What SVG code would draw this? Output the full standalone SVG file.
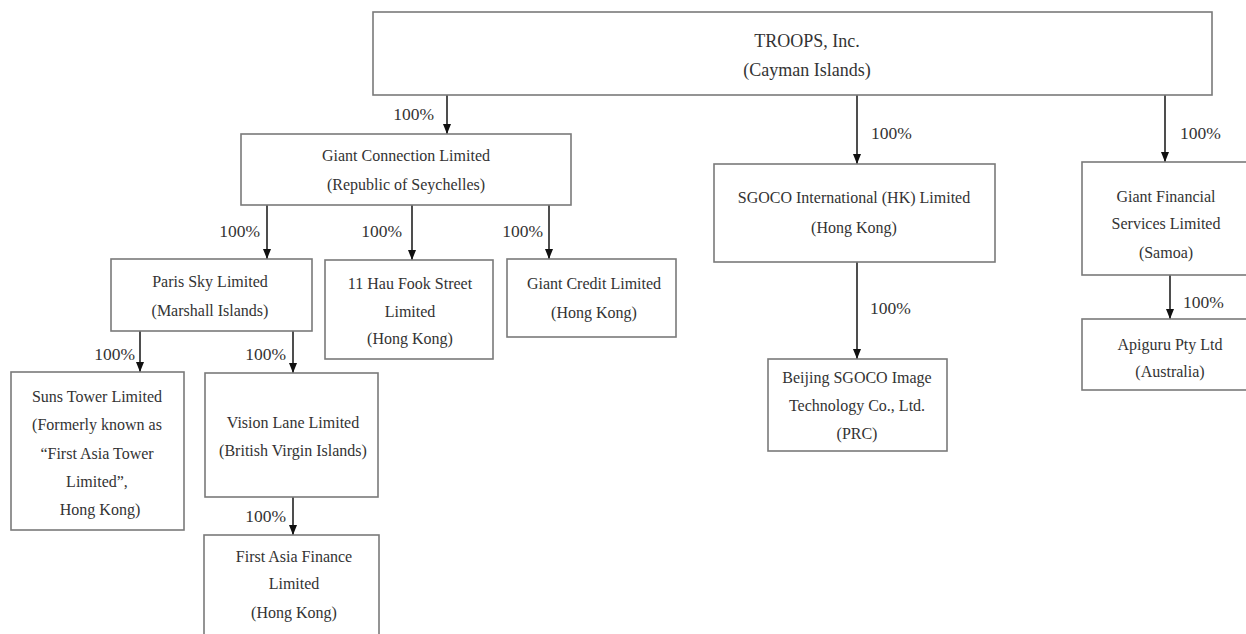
<svg xmlns="http://www.w3.org/2000/svg" width="1246" height="634" viewBox="0 0 1246 634">
<style>
.box{fill:#fff;stroke:#7a7a7a;stroke-width:1.6}
.t{font-family:"Liberation Serif","Times New Roman",serif;font-size:16px;fill:#333;text-anchor:middle}
.big{font-size:18px}
.pct{font-family:"Liberation Serif","Times New Roman",serif;font-size:17.5px;fill:#333}
.e{text-anchor:end}
.s{text-anchor:start}
.ln{stroke:#222;stroke-width:1.6;fill:none;marker-end:url(#arr)}
</style>
<defs>
<marker id="arr" viewBox="0 0 10 8" refX="10" refY="4" markerWidth="10" markerHeight="8" markerUnits="userSpaceOnUse" orient="auto">
<path d="M0,0 L10,4 L0,8 z" fill="#111"/>
</marker>
</defs>
<rect width="1246" height="634" fill="#fff"/>
<g id="connectors">
<line class="ln" x1="447" y1="95" x2="447" y2="134"/>
<text class="pct e" x="434" y="120">100%</text>
<line class="ln" x1="857" y1="95" x2="857" y2="164"/>
<text class="pct s" x="871" y="139">100%</text>
<line class="ln" x1="1165" y1="95" x2="1165" y2="162"/>
<text class="pct s" x="1180" y="139">100%</text>
<line class="ln" x1="267" y1="205" x2="267" y2="259"/>
<text class="pct e" x="260" y="237">100%</text>
<line class="ln" x1="412" y1="205" x2="412" y2="260"/>
<text class="pct e" x="402" y="237">100%</text>
<line class="ln" x1="549" y1="205" x2="549" y2="259"/>
<text class="pct e" x="543" y="237">100%</text>
<line class="ln" x1="140" y1="331" x2="140" y2="372"/>
<text class="pct e" x="135" y="360">100%</text>
<line class="ln" x1="293" y1="331" x2="293" y2="373"/>
<text class="pct e" x="286" y="360">100%</text>
<line class="ln" x1="293" y1="497" x2="293" y2="535"/>
<text class="pct e" x="286" y="522">100%</text>
<line class="ln" x1="857" y1="262" x2="857" y2="359"/>
<text class="pct s" x="870" y="314">100%</text>
<line class="ln" x1="1170" y1="275" x2="1170" y2="319"/>
<text class="pct s" x="1183" y="308">100%</text>
</g>
<g id="troops">
<rect class="box" x="373" y="12" width="839" height="83"/>
<text class="t big" x="807" y="47">TROOPS, Inc.</text>
<text class="t big" x="807" y="76">(Cayman Islands)</text>
</g>
<g id="giant-connection">
<rect class="box" x="241" y="134" width="330" height="71"/>
<text class="t" x="406" y="160.5">Giant Connection Limited</text>
<text class="t" x="406" y="189.5">(Republic of Seychelles)</text>
</g>
<g id="paris-sky">
<rect class="box" x="111" y="259" width="201" height="72"/>
<text class="t" x="210" y="286.5">Paris Sky Limited</text>
<text class="t" x="210" y="315.5">(Marshall Islands)</text>
</g>
<g id="hau-fook">
<rect class="box" x="325" y="260" width="168" height="99"/>
<text class="t" x="410" y="288.5">11 Hau Fook Street</text>
<text class="t" x="410" y="316.5">Limited</text>
<text class="t" x="410" y="343.5">(Hong Kong)</text>
</g>
<g id="giant-credit">
<rect class="box" x="507" y="259" width="169" height="78"/>
<text class="t" x="594" y="288.5">Giant Credit Limited</text>
<text class="t" x="594" y="317.5">(Hong Kong)</text>
</g>
<g id="sgoco-hk">
<rect class="box" x="714" y="164" width="281" height="98"/>
<text class="t" x="854" y="202.5">SGOCO International (HK) Limited</text>
<text class="t" x="854" y="232.5">(Hong Kong)</text>
</g>
<g id="beijing-sgoco">
<rect class="box" x="768" y="359" width="179" height="92"/>
<text class="t" x="857" y="382.5">Beijing SGOCO Image</text>
<text class="t" x="857" y="410.5">Technology Co., Ltd.</text>
<text class="t" x="857" y="438.5">(PRC)</text>
</g>
<g id="giant-financial">
<rect class="box" x="1082" y="162" width="170" height="113"/>
<text class="t" x="1166" y="201.5">Giant Financial</text>
<text class="t" x="1166" y="228.5">Services Limited</text>
<text class="t" x="1166" y="257.5">(Samoa)</text>
</g>
<g id="apiguru">
<rect class="box" x="1082" y="319" width="170" height="71"/>
<text class="t" x="1170" y="349.5">Apiguru Pty Ltd</text>
<text class="t" x="1170" y="376.5">(Australia)</text>
</g>
<g id="suns-tower">
<rect class="box" x="11" y="372" width="173" height="158"/>
<text class="t" x="97" y="401.5">Suns Tower Limited</text>
<text class="t" x="97" y="430">(Formerly known as</text>
<text class="t" x="97" y="458.5">“First Asia Tower</text>
<text class="t" x="97" y="486.5">Limited”,</text>
<text class="t" x="100" y="514.5">Hong Kong)</text>
</g>
<g id="vision-lane">
<rect class="box" x="205" y="373" width="173" height="124"/>
<text class="t" x="293" y="427.5">Vision Lane Limited</text>
<text class="t" x="293" y="455.5">(British Virgin Islands)</text>
</g>
<g id="first-asia-finance">
<rect class="box" x="204" y="535" width="175" height="110"/>
<text class="t" x="294" y="561.5">First Asia Finance</text>
<text class="t" x="294" y="588.5">Limited</text>
<text class="t" x="294" y="617.5">(Hong Kong)</text>
</g>
</svg>
